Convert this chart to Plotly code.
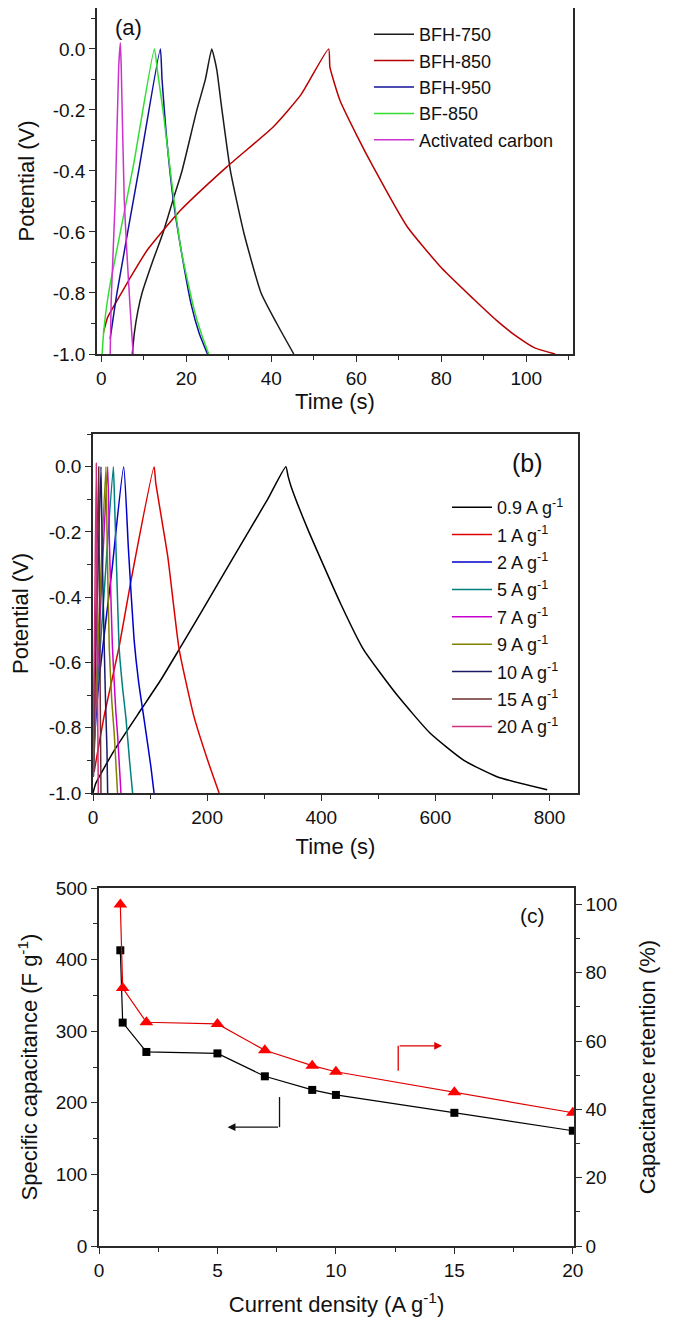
import plotly.graph_objects as go

# ---------------- Panel (a) data: GCD curves at one current density ----------------
a_names = ["BFH-750", "BFH-850", "BFH-950", "BF-850", "Activated carbon"]
a_colors = ["#1a1a1a", "#b80000", "#10109a", "#33dd33", "#cc33cc"]

a_t_bfh750 = [7.3, 7.8, 8.6, 9.6, 12.0, 14.6, 17.0, 19.0, 22.5, 24.5, 26.0, 26.6, 27.2, 28.4, 30.4, 33.5, 37.6, 41.3, 45.3]
a_v_bfh750 = [-1.0, -0.93, -0.86, -0.80, -0.70, -0.60, -0.49, -0.40, -0.20, -0.10, 0.0, -0.03, -0.07, -0.20, -0.40, -0.60, -0.80, -0.90, -1.0]

a_t_bfh850 = [0.5, 1.5, 3.5, 6.4, 10.8, 18.6, 29.6, 40.5, 47.0, 53.5, 53.8, 54.8, 56.2, 60.0, 64.0, 72.0, 80.2, 87.6, 93.0, 97.9, 102.0, 106.8]
a_v_bfh850 = [-0.93, -0.88, -0.83, -0.76, -0.66, -0.53, -0.386, -0.255, -0.15, 0.0, -0.06, -0.11, -0.17, -0.28, -0.387, -0.583, -0.72, -0.82, -0.89, -0.944, -0.98, -1.0]

a_t_bfh950 = [2.1, 3.7, 8.8, 13.9, 14.3, 15.3, 17.0, 18.8, 21.2, 23.0, 25.0]
a_v_bfh950 = [-0.95, -0.80, -0.40, 0.0, -0.10, -0.28, -0.50, -0.66, -0.84, -0.93, -1.0]

a_t_bf850 = [0.2, 0.5, 1.2, 2.1, 7.6, 12.5, 13.3, 14.7, 16.6, 18.8, 21.9, 23.7, 25.3]
a_v_bf850 = [-1.0, -0.94, -0.85, -0.77, -0.38, 0.0, -0.08, -0.22, -0.44, -0.66, -0.857, -0.94, -1.0]

a_t_ac = [2.1, 2.35, 3.3, 4.1, 4.5, 4.7, 5.4, 6.0, 6.8, 7.5]
a_v_ac = [-1.0, -0.82, -0.49, -0.06, 0.02, -0.06, -0.49, -0.66, -0.85, -1.0]

a_t = [a_t_bfh750, a_t_bfh850, a_t_bfh950, a_t_bf850, a_t_ac]
a_v = [a_v_bfh750, a_v_bfh850, a_v_bfh950, a_v_bf850, a_v_ac]

# ---------------- Panel (b) data: BFH-850 at various current densities ----------------
b_names = ["0.9 A g<sup>-1</sup>", "1 A g<sup>-1</sup>", "2 A g<sup>-1</sup>", "5 A g<sup>-1</sup>",
           "7 A g<sup>-1</sup>", "9 A g<sup>-1</sup>", "10 A g<sup>-1</sup>", "15 A g<sup>-1</sup>",
           "20 A g<sup>-1</sup>"]
b_colors = ["#000000", "#dd0000", "#0000cc", "#008080", "#cc00cc", "#808000", "#1a1a66", "#6b2f2f", "#d03080"]

b_t_09 = [0, 5, 37, 84, 119, 151, 189, 247, 306, 338, 342, 347, 376, 434, 474, 533, 591, 650, 708, 796]
b_v_09 = [-1.0, -0.97, -0.87, -0.745, -0.653, -0.56, -0.448, -0.275, -0.10, 0.0, -0.03, -0.06, -0.19, -0.42, -0.56, -0.70, -0.817, -0.90, -0.95, -0.99]

b_t_1 = [2, 20, 46, 66.5, 107, 110, 131, 151, 177, 201, 221]
b_v_1 = [-0.935, -0.76, -0.55, -0.35, 0.0, -0.05, -0.275, -0.56, -0.766, -0.90, -1.0]

b_t_2 = [0.5, 4, 12, 33, 53.7, 62, 72, 80, 90, 101.5, 107]
b_v_2 = [-0.95, -0.80, -0.63, -0.32, 0.0, -0.25, -0.53, -0.66, -0.78, -0.92, -1.0]

b_t_5 = [0.5, 3, 19, 35.6, 38, 42, 46, 52, 57.7, 64, 69.4]
b_v_5 = [-0.95, -0.80, -0.40, 0.0, -0.12, -0.35, -0.56, -0.68, -0.77, -0.90, -1.0]

b_t_7 = [0.5, 2, 14, 25.7, 29, 34, 40, 43, 49]
b_v_7 = [-0.95, -0.85, -0.40, 0.0, -0.25, -0.55, -0.75, -0.82, -1.0]

b_t_9 = [0.5, 2, 12, 22.7, 24.5, 28.6, 33, 37.3, 43]
b_v_9 = [-0.95, -0.85, -0.40, 0.0, -0.20, -0.56, -0.72, -0.82, -1.0]

b_t_10 = [0.3, 1.5, 7.5, 14, 16, 19.8, 22, 24.5, 25.7]
b_v_10 = [-0.95, -0.80, -0.40, 0.0, -0.25, -0.56, -0.72, -0.87, -1.0]

b_t_15 = [0.3, 1, 5.5, 10, 11, 12.2, 13.2, 14]
b_v_15 = [-0.95, -0.80, -0.40, 0.0, -0.30, -0.60, -0.82, -1.0]

b_t_20 = [0.2, 0.8, 3.3, 5.8, 6.6, 7.6, 8.5, 9.3]
b_v_20 = [-0.95, -0.80, -0.40, 0.01, -0.30, -0.60, -0.82, -1.0]

b_t = [b_t_09, b_t_1, b_t_2, b_t_5, b_t_7, b_t_9, b_t_10, b_t_15, b_t_20]
b_v = [b_v_09, b_v_1, b_v_2, b_v_5, b_v_7, b_v_9, b_v_10, b_v_15, b_v_20]

# ---------------- Panel (c) data: rate capability ----------------
c_current = [0.9, 1, 2, 5, 7, 9, 10, 15, 20]
c_capacitance = [413, 312, 271, 269, 237, 218, 211, 186, 161]
c_retention = [100, 75.5, 65.5, 65.0, 57.3, 52.8, 51.0, 45.0, 39.0]

FONT = "Liberation Sans, Arial, sans-serif"
AX = "#2a2a2a"

fig = go.Figure()

for i, (n, t, v, c) in enumerate(zip(a_names, a_t, a_v, a_colors)):
    fig.add_trace(go.Scatter(x=t, y=v, name=n, mode="lines",
                             line=dict(color=c, width=1.5, shape="spline", smoothing=0.5),
                             legendgroup="a%d" % i, xaxis="x", yaxis="y", legend="legend"))

for i, (n, t, v, c) in enumerate(zip(b_names, b_t, b_v, b_colors)):
    fig.add_trace(go.Scatter(x=t, y=v, name=n, mode="lines",
                             line=dict(color=c, width=1.5, shape="spline", smoothing=0.5),
                             legendgroup="b%d" % i, xaxis="x2", yaxis="y2", legend="legend2"))

fig.add_trace(go.Scatter(x=c_current, y=c_capacitance, mode="lines+markers", showlegend=False,
                         line=dict(color="#000000", width=1.2),
                         marker=dict(symbol="square", size=8, color="#000000"),
                         xaxis="x3", yaxis="y3"))
fig.add_trace(go.Scatter(x=c_current, y=c_retention, mode="lines+markers", showlegend=False,
                         line=dict(color="#e00000", width=1.2),
                         marker=dict(symbol="triangle-up", size=12, color="#ff0000"),
                         xaxis="x3", yaxis="y4"))

# the page body adds an 8 px margin; the figure is sized so that it fills the window
OFF = 8
W, H = 675 - OFF, 1321 - OFF
def px(p):
    return min(max((p - OFF) / W, 0.0), 1.0)
def py(p):
    return min(max(1 - (p - OFF) / H, 0.0), 1.0)
def dx(p0, p1):
    return [px(p0), px(p1)]
def dy(top, bottom):
    return [py(bottom), py(top)]

tickfont = dict(family=FONT, size=19, color="#111")
titlefont = dict(family=FONT, size=22, color="#111")

def axis(**kw):
    base = dict(showline=True, linecolor=AX, linewidth=1.5, ticks="outside", ticklen=6,
                tickwidth=1.3, tickcolor=AX, showgrid=False, zeroline=False,
                tickfont=tickfont, automargin=False)
    base.update(kw)
    return base

vt_a = [-1.0, -0.8, -0.6, -0.4, -0.2, 0.0]
vt_txt = ["-1.0", "-0.8", "-0.6", "-0.4", "-0.2", "0.0"]

fig.update_layout(
    template="none",
    width=W, height=H, margin=dict(l=0, r=0, t=0, b=0, pad=0),
    paper_bgcolor="white", plot_bgcolor="white",
    font=dict(family=FONT, color="#111"),
    xaxis=axis(domain=dx(97, 573), range=[-1, 111], dtick=20, tick0=0, mirror=True,
               minor=dict(dtick=10, tick0=0, ticks="outside", ticklen=4, tickcolor=AX),
               anchor="y", title=dict(text="Time (s)", font=titlefont, standoff=0)),
    yaxis=axis(domain=dy(8, 354), range=[-1.0, 0.134], tickmode="array", tickvals=vt_a, ticktext=vt_txt,
               mirror=True, minor=dict(dtick=0.1, tick0=0, ticks="outside", ticklen=4, tickcolor=AX),
               anchor="x", title=dict(text="Potential (V)", font=titlefont, standoff=12)),
    xaxis2=axis(domain=dx(93, 578), range=[0, 850], dtick=200, tick0=0, mirror=True,
                minor=dict(dtick=100, tick0=0, ticks="outside", ticklen=4, tickcolor=AX),
                anchor="y2", title=dict(text="Time (s)", font=titlefont, standoff=12)),
    yaxis2=axis(domain=dy(434, 793), range=[-1.0, 0.1], tickmode="array", tickvals=vt_a, ticktext=vt_txt,
                mirror=True, minor=dict(dtick=0.1, tick0=0, ticks="outside", ticklen=4, tickcolor=AX),
                anchor="x2", title=dict(text="Potential (V)", font=titlefont, standoff=15)),
    xaxis3=axis(domain=dx(99, 574), range=[0, 20.05], dtick=5, tick0=0, mirror=True,
                minor=dict(dtick=2.5, tick0=0, ticks="outside", ticklen=4, tickcolor=AX),
                anchor="y3", title=dict(text="Current density (A g<sup>-1</sup>)", font=titlefont, standoff=17)),
    yaxis3=axis(domain=dy(888, 1246), range=[0, 500], dtick=100, tick0=0,
                minor=dict(dtick=50, tick0=0, ticks="outside", ticklen=4, tickcolor=AX),
                anchor="x3", title=dict(text="Specific capacitance (F g<sup>-1</sup>)", font=titlefont, standoff=12)),
    yaxis4=axis(domain=dy(888, 1246), range=[0, 104.8], dtick=20, tick0=0, side="right",
                overlaying="y3", anchor="x3",
                minor=dict(dtick=10, tick0=0, ticks="outside", ticklen=4, tickcolor=AX),
                title=dict(text="Capacitance retention (%)", font=titlefont, standoff=23)),
    legend=dict(x=px(369), y=py(16), xanchor="left", yanchor="top", bgcolor="rgba(0,0,0,0)",
                font=dict(family=FONT, size=18, color="#111"), tracegroupgap=0, itemwidth=40),
    legend2=dict(x=px(447), y=py(489), xanchor="left", yanchor="top", bgcolor="rgba(0,0,0,0)",
                 font=dict(family=FONT, size=18, color="#111"), tracegroupgap=1, itemwidth=40),
    showlegend=True,
)

# panel labels
lab = dict(xref="paper", yref="paper", showarrow=False, xanchor="center", yanchor="middle")
fig.add_annotation(x=px(128), y=py(27), text="(a)", font=dict(family=FONT, size=22, color="#111"), **lab)
fig.add_annotation(x=px(527), y=py(463), text="(b)", font=dict(family=FONT, size=25, color="#111"), **lab)
fig.add_annotation(x=px(532), y=py(915), text="(c)", font=dict(family=FONT, size=21, color="#111"), **lab)

# arrows in panel (c): black points to left axis, red points to right axis
fig.add_shape(type="line", xref="x3", yref="y3", x0=7.62, x1=7.62, y0=208, y1=166,
              line=dict(color="#111", width=1.3))
fig.add_annotation(xref="x3", yref="y3", axref="x3", ayref="y3", x=5.43, y=166, ax=7.62, ay=166,
                   text="", showarrow=True, arrowhead=2, arrowsize=1.2, arrowwidth=1.3, arrowcolor="#111")
fig.add_shape(type="line", xref="x3", yref="y4", x0=12.63, x1=12.63, y0=51.3, y1=58.6,
              line=dict(color="#e00000", width=1.3))
fig.add_annotation(xref="x3", yref="y4", axref="x3", ayref="y4", x=14.48, y=58.6, ax=12.63, ay=58.6,
                   text="", showarrow=True, arrowhead=2, arrowsize=1.2, arrowwidth=1.3, arrowcolor="#e00000")

fig.write_html("out.html")
